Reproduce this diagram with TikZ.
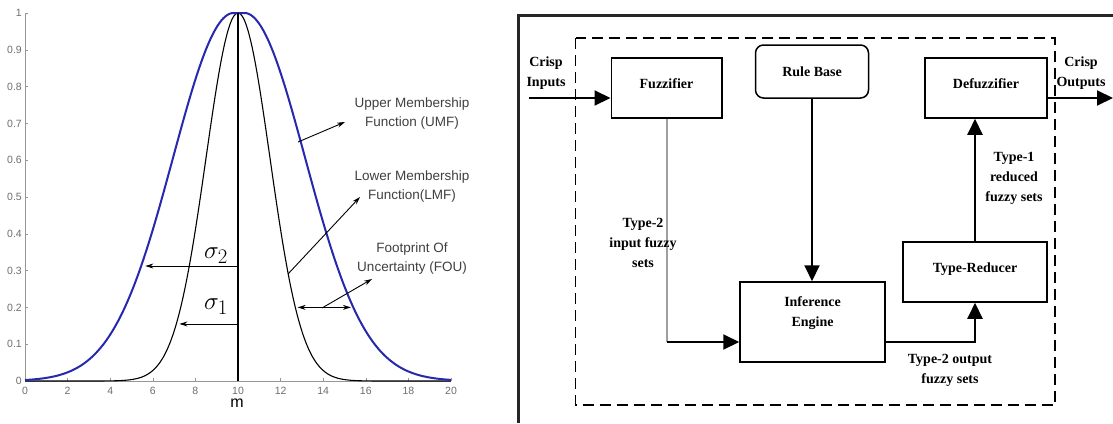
\documentclass[tikz,border=0pt]{standalone}
\usepackage{fontspec}
\setmainfont{Liberation Sans}
\newfontfamily\diagfont{Liberation Serif}
\usetikzlibrary{arrows.meta}
\definecolor{umfblue}{RGB}{40,40,175}
\definecolor{axisgray}{RGB}{150,150,150}
\definecolor{ticktext}{RGB}{110,110,110}
\begin{document}
\begin{tikzpicture}[x=1pt,y=-1pt,
  tick/.style={font=\fontsize{10.5}{10.5}\selectfont, text=ticktext, inner sep=0pt},
  annot/.style={font=\fontsize{13.5}{19}\selectfont, text=black!75, align=center, inner sep=0pt},
  parrow/.style={line width=0.9pt, -{Stealth[length=8pt,width=5pt]}},
  pdarrow/.style={line width=0.9pt, {Stealth[length=8pt,width=5pt]}-{Stealth[length=8pt,width=5pt]}},
  box/.style={draw, line width=1.5pt, inner sep=0pt, font=\diagfont\bfseries\fontsize{14}{20}\selectfont},
  conn/.style={line width=2pt, -{Triangle[length=16pt,width=15pt]}},
  dlabel/.style={font=\diagfont\bfseries\fontsize{14}{20}\selectfont, align=center, inner sep=0pt},
  dashbox/.style={line width=1.5pt, dash pattern=on 11pt off 6pt},
]
\useasboundingbox (0,0) rectangle (1113,423);
\fill[white] (0,0) rectangle (1113,423);

% ---------------- left: membership functions ----------------
\begin{scope}[shift={(25,381)}, x=21.3pt, y=368pt]
  \draw[axisgray, line width=0.6pt] (0,1) -- (0,0) -- (20,0);
  \foreach \v/\t in {0/0,1/0.1,2/0.2,3/0.3,4/0.4,5/0.5,6/0.6,7/0.7,8/0.8,9/0.9,10/1} {
    \draw[axisgray, line width=0.6pt] (0,\v/10) -- ++(3pt,0);
    \node[tick, anchor=east] at ([xshift=-3pt]0,\v/10) {\t};
  }
  \foreach \v in {0,2,...,20} {
    \draw[axisgray, line width=0.6pt] (\v,0) -- ++(0,3pt);
    \node[tick, anchor=north] at ([yshift=-6pt]\v,0) {\v};
  }
  \draw[black, line width=1.1pt] plot[domain=0:20, samples=201, smooth] (\x,{exp(-((\x-10)^2)/4.5)});
  \draw[umfblue, line width=2pt] plot[domain=0:9.8, samples=100, smooth] (\x,{exp(-((\x-9.8)^2)/16.245)})
     -- plot[domain=10.3:20, samples=100, smooth] (\x,{exp(-((\x-10.3)^2)/16.245)});
  \draw[black, line width=1.1pt] (10,0) -- (10,1);
  \draw[parrow] (10,0.3125) -- (5.65,0.3125);
  \draw[parrow] (10,0.155) -- (7.25,0.155);
  \draw[pdarrow] (12.8,0.2) -- (15.3,0.2);
\end{scope}
\draw[parrow] (298,142) -- (345,122);
\draw[parrow] (288,274) -- (360,197);
\draw[parrow] (322,308) -- (372,279);
\node[annot] (umf) at (412,114) {Upper Membership\\Function (UMF)};
\node[annot] (lmf) at (412,187) {Lower Membership\\Function(LMF)};
\node[annot] (fou) at (412,259) {Footprint Of\\Uncertainty (FOU)};
\node[inner sep=0pt] (s2) at (216,256) {\fontsize{28}{28}\selectfont$\sigma_2$};
\node[inner sep=0pt] (s1) at (216,307) {\fontsize{28}{28}\selectfont$\sigma_1$};
\node[inner sep=0pt] (mlab) at (237,403) {\fontsize{16}{16}\selectfont m};

% ---------------- right: type-2 fuzzy logic system ----------------
\draw[line width=3pt, black!85] (518,423) -- (518,15) -- (1113,15);
\draw[dashbox] (575.5,38) rectangle (1055,405);

\node[box, minimum width=110.5pt, minimum height=60pt, text height=10pt, text depth=10pt] (fuzz) at (666.5,88) {Fuzzifier};
\node[box, rounded corners=8pt, minimum width=113pt, minimum height=53pt] (rb) at (812,71.5) {Rule Base};
\node[box, minimum width=122pt, minimum height=60pt, text height=10pt, text depth=10pt] (defuzz) at (986,88) {Defuzzifier};
\node[box, minimum width=144pt, minimum height=60pt, text height=10pt, text depth=10pt] (tr) at (975,272) {Type-Reducer};
\node[box, minimum width=145pt, minimum height=80pt, align=center] (inf) at (812.5,322) {Inference\\Engine\\\mbox{}};

\coordinate (cin) at (529,98);
\coordinate (cout) at (1113,98);
\coordinate (c1) at (fuzz.south |- 0,342);
\coordinate (c2) at (inf.east |- 0,342);

\draw[conn] (cin) -- (cin -| fuzz.west);
\draw[conn] (cout -| defuzz.east) -- (cout);
\draw[line width=2pt, gray!75] (fuzz.south) -- (c1);
\draw[conn] (c1) -- (c1 -| inf.west);
\draw[conn] (rb.south) -- (rb.south |- inf.north);
\draw[conn] (c2) -| (tr.south);
\draw[conn] (tr.north) -- (tr.north |- defuzz.south);

\node[dlabel] (lin) at (546,73) {Crisp\\Inputs};
\node[dlabel] (lout) at (1081,73) {Crisp\\Outputs};
\node[dlabel] (l2in) at (643,243) {Type-2\\input fuzzy\\sets};
\node[dlabel] (l1red) at (1014,178) {Type-1\\reduced\\fuzzy sets};
\node[dlabel] (l2out) at (950,370) {Type-2 output\\fuzzy sets};
\end{tikzpicture}
\end{document}
